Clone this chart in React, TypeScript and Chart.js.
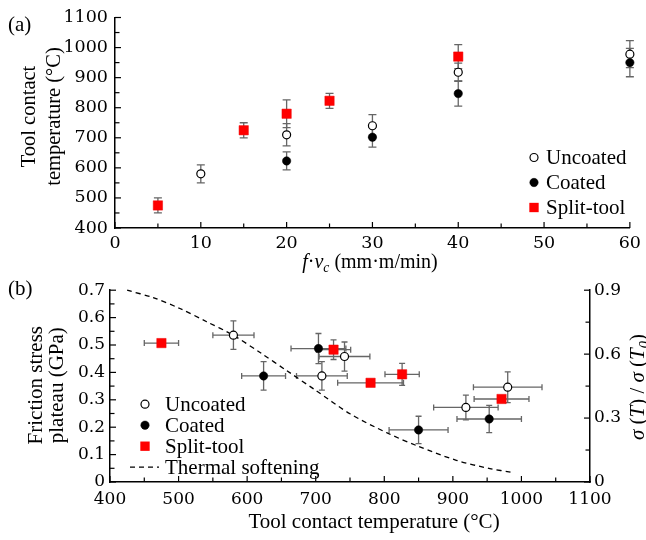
import React, { useEffect, useRef } from 'react';
import { Chart, registerables } from 'chart.js';

Chart.register(...registerables);

const WORD = '"Liberation Serif", "Times New Roman", serif';
const NUM = '"DejaVu Serif", serif';

// ---------- Panel (a): tool contact temperature vs f·vc ----------
const aUncoatedX = [10, 20, 30, 40, 60];
const aUncoatedY = [580, 710, 740, 918, 978];
const aUncoatedErr = [30, 37, 37, 30, 45];

const aCoatedX = [20, 30, 40, 60];
const aCoatedY = [623, 702, 847, 950];
const aCoatedErr = [30, 33, 42, 47];

const aSplitX = [5, 15, 20, 25, 40];
const aSplitY = [475, 725, 780, 823, 970];
const aSplitErr = [25, 25, 46, 25, 40];

// ---------- Panel (b): friction stress plateau vs temperature ----------
const bUncoatedT = [580, 709, 742, 919, 980];
const bUncoatedTErr = [30, 37, 37, 47, 50];
const bUncoatedF = [0.536, 0.387, 0.458, 0.272, 0.346];
const bUncoatedFErr = [0.052, 0.052, 0.053, 0.045, 0.056];

const bCoatedT = [624, 704, 850, 953];
const bCoatedTErr = [32, 40, 43, 47];
const bCoatedF = [0.387, 0.487, 0.19, 0.23];
const bCoatedFErr = [0.052, 0.055, 0.05, 0.05];

const bSplitT = [475, 726, 780, 826, 971];
const bSplitTErr = [25, 25, 48, 25, 40];
const bSplitF = [0.507, 0.483, 0.362, 0.393, 0.303];
const bSplitFErr = [0, 0.036, 0, 0.04, 0];

// thermal softening sigma(T)/sigma(T0), right axis
const softT = [425, 463, 502, 541, 579, 620, 658, 700, 750, 805, 850, 905, 954, 985];
const softRatio = [0.9, 0.865, 0.814, 0.752, 0.69, 0.605, 0.522, 0.43, 0.32, 0.229, 0.167, 0.102, 0.063, 0.046];

const labelsA = ['Uncoated', 'Coated', 'Split-tool'];
const labelsB = ['Uncoated', 'Coated', 'Split-tool', 'Thermal softening'];

const pts = (xs: number[], ys: number[]) => xs.map((x, i) => ({ x, y: ys[i] }));

const uncoatedStyle = {
  pointStyle: 'circle', pointRadius: 4, pointBackgroundColor: '#ffffff',
  pointBorderColor: '#000000', pointBorderWidth: 1.2, clip: false,
};
const coatedStyle = {
  pointStyle: 'circle', pointRadius: 4.2, pointBackgroundColor: '#000000',
  pointBorderColor: '#000000', pointBorderWidth: 0.5, clip: false,
};
const splitStyle = {
  pointStyle: 'rect', pointRadius: 6.6, pointBackgroundColor: '#ff0000',
  pointBorderColor: '#ee0000', pointBorderWidth: 0.5, clip: false,
};

type Seg = { t: string; i?: boolean; sub?: boolean };

function drawRich(ctx: CanvasRenderingContext2D, segs: Seg[], x: number, y: number, size: number, rot: number) {
  ctx.save();
  ctx.translate(x, y);
  ctx.rotate(rot);
  ctx.fillStyle = '#000';
  ctx.textBaseline = 'alphabetic';
  ctx.textAlign = 'left';
  const fontOf = (s: Seg) => `${s.i ? 'italic ' : ''}${s.sub ? size * 0.68 : size}px ${WORD}`;
  let total = 0;
  const widths = segs.map((s) => {
    ctx.font = fontOf(s);
    const w = ctx.measureText(s.t).width;
    total += w;
    return w;
  });
  let cx = -total / 2;
  segs.forEach((s, k) => {
    ctx.font = fontOf(s);
    ctx.fillText(s.t, cx, s.sub ? size * 0.22 : 0);
    cx += widths[k];
  });
  ctx.restore();
}

function drawMarker(ctx: CanvasRenderingContext2D, ds: any, x: number, y: number) {
  ctx.save();
  if (ds.showLine) {
    ctx.strokeStyle = ds.borderColor;
    ctx.lineWidth = ds.borderWidth;
    ctx.setLineDash(ds.borderDash || []);
    ctx.beginPath();
    ctx.moveTo(x - 15, y);
    ctx.lineTo(x + 14, y);
    ctx.stroke();
  } else if (ds.pointStyle === 'rect') {
    const h = ds.pointRadius * Math.SQRT1_2;
    ctx.fillStyle = ds.pointBackgroundColor;
    ctx.fillRect(x - h, y - h, 2 * h, 2 * h);
  } else {
    ctx.beginPath();
    ctx.arc(x, y, ds.pointRadius, 0, Math.PI * 2);
    ctx.fillStyle = ds.pointBackgroundColor;
    ctx.fill();
    ctx.lineWidth = ds.pointBorderWidth;
    ctx.strokeStyle = ds.pointBorderColor;
    ctx.stroke();
  }
  ctx.restore();
}

const tickMarks = {
  id: 'tickMarks',
  beforeDatasetsDraw(chart: any) {
    const ctx = chart.ctx;
    const ca = chart.chartArea;
    ctx.save();
    ctx.strokeStyle = '#000';
    ctx.lineWidth = 1.2;
    Object.keys(chart.scales).forEach((id) => {
      const s = chart.scales[id];
      const step = s.options.ticks.stepSize / 2;
      const n = Math.round((s.max - s.min) / step);
      for (let k = 0; k <= n; k++) {
        const v = s.min + k * step;
        const p = s.getPixelForValue(v);
        const len = k % 2 === 0 ? 6 : 4.5;
        ctx.beginPath();
        if (s.isHorizontal()) {
          ctx.moveTo(p, ca.bottom);
          ctx.lineTo(p, ca.bottom - len);
        } else if (s.position === 'left') {
          ctx.moveTo(ca.left, p);
          ctx.lineTo(ca.left + len, p);
        } else {
          ctx.moveTo(ca.right, p);
          ctx.lineTo(ca.right - len, p);
        }
        ctx.stroke();
      }
    });
    ctx.restore();
  },
};

const errorBars = (cap: number) => ({
  id: 'errorBars',
  beforeDatasetsDraw(chart: any) {
    const ctx = chart.ctx;
    ctx.save();
    ctx.strokeStyle = '#666';
    ctx.lineWidth = 1.3;
    chart.data.datasets.forEach((ds: any) => {
      const xs = chart.scales[ds.xAxisID || 'x'];
      const ys = chart.scales[ds.yAxisID || 'y'];
      ds.data.forEach((pt: any, j: number) => {
        const px = xs.getPixelForValue(pt.x);
        const py = ys.getPixelForValue(pt.y);
        const ey = ds.yErr ? ds.yErr[j] : 0;
        const ex = ds.xErr ? ds.xErr[j] : 0;
        if (ey) {
          const y1 = ys.getPixelForValue(pt.y + ey);
          const y2 = ys.getPixelForValue(pt.y - ey);
          ctx.beginPath();
          ctx.moveTo(px, y1); ctx.lineTo(px, y2);
          ctx.moveTo(px - cap, y1); ctx.lineTo(px + cap, y1);
          ctx.moveTo(px - cap, y2); ctx.lineTo(px + cap, y2);
          ctx.stroke();
        }
        if (ex) {
          const x1 = xs.getPixelForValue(pt.x - ex);
          const x2 = xs.getPixelForValue(pt.x + ex);
          ctx.beginPath();
          ctx.moveTo(x1, py); ctx.lineTo(x2, py);
          ctx.moveTo(x1, py - cap); ctx.lineTo(x1, py + cap);
          ctx.moveTo(x2, py - cap); ctx.lineTo(x2, py + cap);
          ctx.stroke();
        }
      });
    });
    ctx.restore();
  },
});

const inLegend = (o: { dx: number; dy: number; rowH: number; gap: number }) => ({
  id: 'inLegend',
  afterDraw(chart: any) {
    const { ctx, chartArea: ca } = chart;
    chart.data.datasets.forEach((ds: any, k: number) => {
      const x = ca.left + o.dx;
      const y = ca.top + o.dy + k * o.rowH;
      drawMarker(ctx, ds, x, y);
      ctx.save();
      ctx.font = `21px ${WORD}`;
      ctx.textBaseline = 'middle';
      ctx.textAlign = 'left';
      ctx.fillStyle = '#000';
      ctx.fillText(ds.label, x + o.gap, y + 1);
      ctx.restore();
    });
  },
});

type TitleItem = { segs: Seg[]; x: number; y: number; rot: number; size: number };
const titles = (fn: (ca: any) => TitleItem[]) => ({
  id: 'richTitles',
  afterDraw(chart: any) {
    fn(chart.chartArea).forEach((it) => drawRich(chart.ctx, it.segs, it.x, it.y, it.size, it.rot));
  },
});

const fmt = (v: any) => String(Number(Number(v).toFixed(3)));

const axisCommon = (min: number, max: number, step: number, size: number, pad: number) => ({
  type: 'linear' as const,
  min,
  max,
  ticks: { stepSize: step, font: { family: NUM, size }, color: '#000', padding: pad, callback: fmt },
  grid: { display: true, drawOnChartArea: false, drawTicks: false, color: 'rgba(0,0,0,0)' },
  border: { display: true, color: '#000', width: 1.5 },
});

export default function App() {
  const refA = useRef<HTMLCanvasElement>(null);
  const refB = useRef<HTMLCanvasElement>(null);

  useEffect(() => {
    const chartA = new Chart(refA.current as HTMLCanvasElement, {
      type: 'scatter',
      data: {
        datasets: [
          { label: labelsA[0], data: pts(aUncoatedX, aUncoatedY), yErr: aUncoatedErr, ...uncoatedStyle } as any,
          { label: labelsA[1], data: pts(aCoatedX, aCoatedY), yErr: aCoatedErr, ...coatedStyle } as any,
          { label: labelsA[2], data: pts(aSplitX, aSplitY), yErr: aSplitErr, ...splitStyle } as any,
        ],
      },
      options: {
        animation: false,
        responsive: false,
        events: [],
        layout: { padding: { left: 0, right: 16, top: 16, bottom: 0 } },
        plugins: { legend: { display: false }, tooltip: { enabled: false } },
        scales: {
          x: { ...axisCommon(0, 60, 10, 17.5, 5), afterFit: (s: any) => { s.height = 47; } },
          y: { ...axisCommon(400, 1100, 100, 17.5, 7), afterFit: (s: any) => { s.width = 115; } },
        },
      } as any,
      plugins: [
        tickMarks,
        errorBars(4),
        inLegend({ dx: 419, dy: 140, rowH: 25, gap: 12 }),
        titles((ca) => [
          { segs: [{ t: 'f', i: true }, { t: '·' }, { t: 'v', i: true }, { t: 'c', i: true, sub: true }, { t: ' (mm·m/min)' }], x: ca.left + 255, y: ca.bottom + 40, rot: 0, size: 20 },
          { segs: [{ t: 'Tool contact' }], x: ca.left - 80, y: ca.top + 99, rot: -Math.PI / 2, size: 20.5 },
          { segs: [{ t: 'temperature (°C)' }], x: ca.left - 55.5, y: ca.top + 99, rot: -Math.PI / 2, size: 20.5 },
        ]),
      ] as any,
    });

    const chartB = new Chart(refB.current as HTMLCanvasElement, {
      type: 'scatter',
      data: {
        datasets: [
          { label: labelsB[0], data: pts(bUncoatedT, bUncoatedF), xErr: bUncoatedTErr, yErr: bUncoatedFErr, ...uncoatedStyle } as any,
          { label: labelsB[1], data: pts(bCoatedT, bCoatedF), xErr: bCoatedTErr, yErr: bCoatedFErr, ...coatedStyle } as any,
          { label: labelsB[2], data: pts(bSplitT, bSplitF), xErr: bSplitTErr, yErr: bSplitFErr, ...splitStyle } as any,
          {
            label: labelsB[3], data: pts(softT, softRatio), yAxisID: 'y2', showLine: true,
            pointRadius: 0, borderColor: '#000', borderWidth: 1.3, borderDash: [5, 4],
            tension: 0.3, clip: false,
          } as any,
        ],
      },
      options: {
        animation: false,
        responsive: false,
        events: [],
        layout: { padding: { left: 0, right: 0, top: 14, bottom: 0 } },
        plugins: { legend: { display: false }, tooltip: { enabled: false } },
        scales: {
          x: { ...axisCommon(400, 1100, 100, 17, 7), afterFit: (s: any) => { s.height = 58; } },
          y: { ...axisCommon(0, 0.7, 0.1, 17, 5), position: 'left', afterFit: (s: any) => { s.width = 110; } },
          y2: { ...axisCommon(0, 0.9, 0.3, 17, 4), position: 'right', afterFit: (s: any) => { s.width = 56; } },
        },
      } as any,
      plugins: [
        tickMarks,
        errorBars(3),
        inLegend({ dx: 35, dy: 114, rowH: 21, gap: 20 }),
        titles((ca) => [
          { segs: [{ t: 'Tool contact temperature (°C)' }], x: ca.left + 264, y: ca.bottom + 46, rot: 0, size: 21 },
          { segs: [{ t: 'Friction stress' }], x: ca.left - 68.5, y: ca.top + 95, rot: -Math.PI / 2, size: 21 },
          { segs: [{ t: 'plateau (GPa)' }], x: ca.left - 47.5, y: ca.top + 95, rot: -Math.PI / 2, size: 21 },
          {
            segs: [{ t: 'σ', i: true }, { t: ' (' }, { t: 'T', i: true }, { t: ') / ' }, { t: 'σ', i: true }, { t: ' (' }, { t: 'T', i: true }, { t: '0', i: true, sub: true }, { t: ')' }],
            x: ca.right + 54, y: (ca.top + ca.bottom) / 2 + 1, rot: -Math.PI / 2, size: 21,
          },
        ]),
      ] as any,
    });

    return () => {
      chartA.destroy();
      chartB.destroy();
    };
  }, []);

  return (
    <div style={{ position: 'fixed', left: 0, top: 0, width: 646, height: 540, overflow: 'hidden', background: '#fff' }}>
      <canvas ref={refA} width={646} height={275} style={{ position: 'absolute', left: 0, top: 0 }} />
      <canvas ref={refB} width={646} height={265} style={{ position: 'absolute', left: 0, top: 275 }} />
      <div style={{ position: 'absolute', left: 8, top: 12, fontFamily: WORD, fontSize: 21, lineHeight: '24px' }}>(a)</div>
      <div style={{ position: 'absolute', left: 8, top: 276, fontFamily: WORD, fontSize: 21, lineHeight: '24px' }}>(b)</div>
    </div>
  );
}
